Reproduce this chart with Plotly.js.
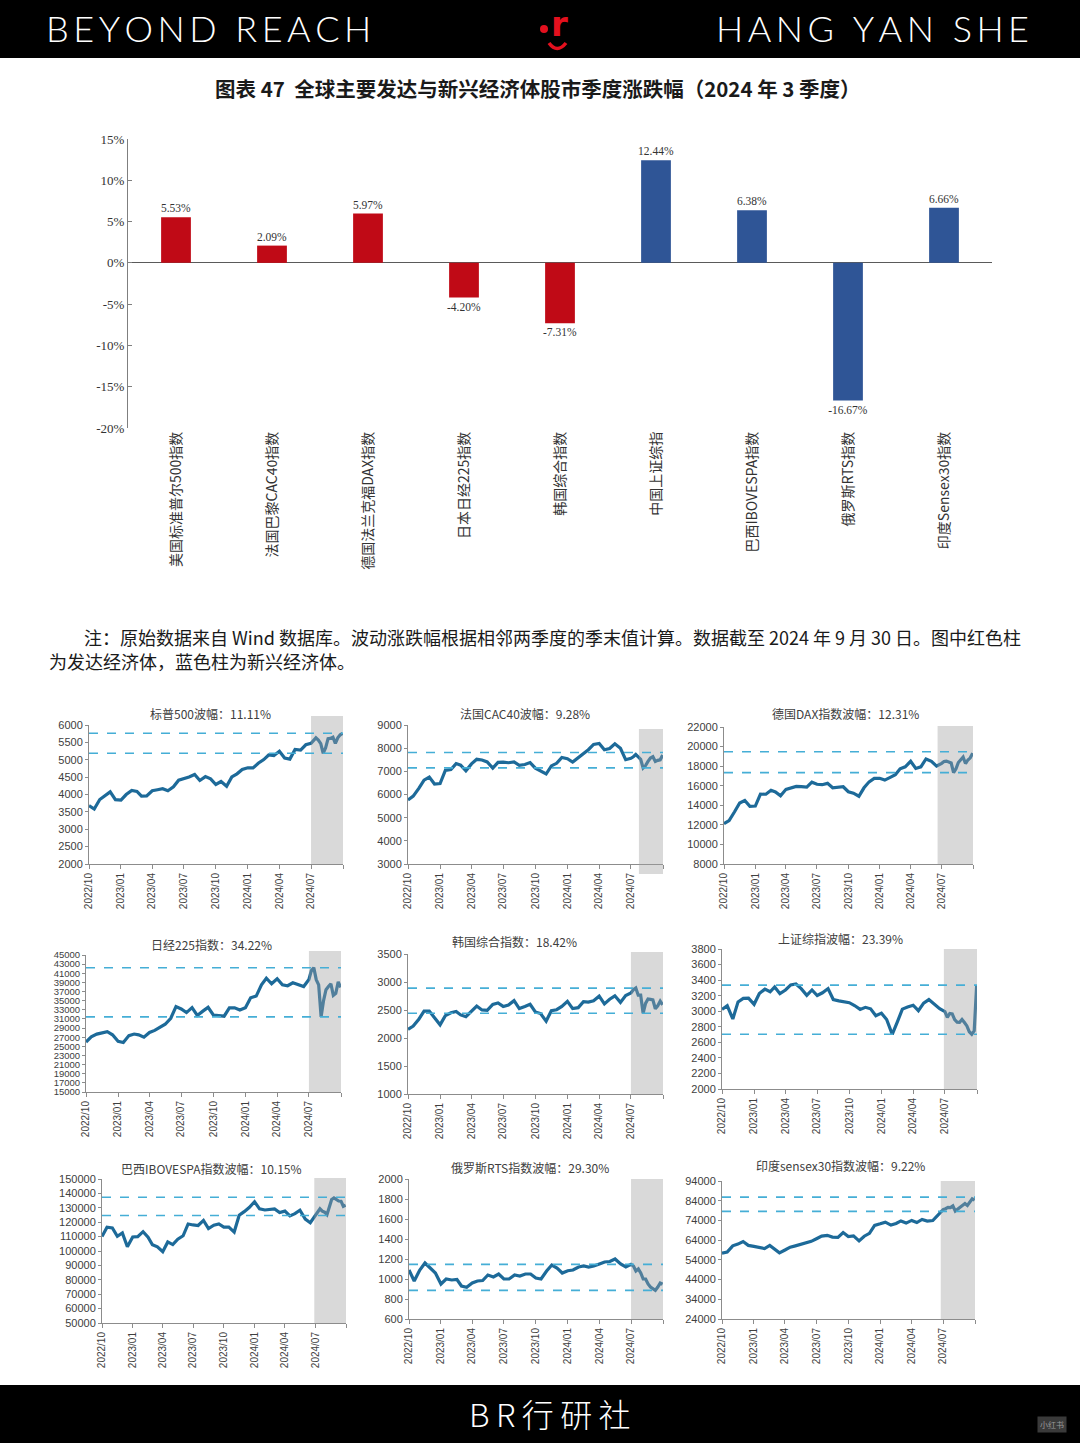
<!DOCTYPE html>
<html>
<head>
<meta charset="utf-8">
<script src="https://cdn.plot.ly/plotly-3.0.1.min.js"></script>
<style>
html,body{margin:0;padding:0;background:#ffffff;}
#chart{width:1080px;height:1443px;}
</style>
</head>
<body>
<div id="chart"></div>
<script>
// ---------------- DATA ----------------
const CATEGORIES = ['美国标准普尔500指数','法国巴黎CAC40指数','德国法兰克福DAX指数','日本日经225指数','韩国综合指数','中国上证综指','巴西IBOVESPA指数','俄罗斯RTS指数','印度Sensex30指数'];
const QTR_CHANGE = [5.53, 2.09, 5.97, -4.20, -7.31, 12.44, 6.38, -16.67, 6.66];
const ECON_GROUP = ['developed','developed','developed','developed','developed','emerging','emerging','emerging','emerging'];
const BAR_Y_TICKS = [-20, -15, -10, -5, 0, 5, 10, 15];

const PANEL_TITLES = ['标普500波幅：11.11%','法国CAC40波幅：9.28%','德国DAX指数波幅：12.31%','日经225指数：34.22%','韩国综合指数：18.42%','上证综指波幅：23.39%','巴西IBOVESPA指数波幅：10.15%','俄罗斯RTS指数波幅：29.30%','印度sensex30指数波幅：9.22%'];

const DATES = [
 '2022-10-01','2022-10-16','2022-11-01','2022-11-16','2022-12-01','2022-12-16',
 '2023-01-01','2023-01-16','2023-02-01','2023-02-16','2023-03-01','2023-03-16','2023-04-01','2023-04-16','2023-05-01','2023-05-16','2023-06-01','2023-06-16',
 '2023-07-01','2023-07-16','2023-08-01','2023-08-16','2023-09-01','2023-09-16','2023-10-01','2023-10-16','2023-11-01','2023-11-16','2023-12-01','2023-12-16',
 '2024-01-01','2024-01-16','2024-02-01','2024-02-16','2024-03-01','2024-03-16','2024-04-01','2024-04-16','2024-05-01','2024-05-16','2024-06-01','2024-06-16',
 '2024-07-01','2024-07-08','2024-07-15','2024-07-22','2024-07-29','2024-08-05','2024-08-12','2024-08-19','2024-08-26','2024-09-02','2024-09-09','2024-09-16','2024-09-23','2024-09-30'
];

const SPX = [
 3678,3583,3856,3958,4076,3852,
 3840,3999,4119,4090,3951,3960,4109,4137,4167,4109,4221,4410,
 4450,4505,4577,4404,4515,4450,4288,4373,4237,4508,4595,4719,
 4770,4766,4906,5005,5137,5117,5243,5051,5018,5297,5277,5431,
 5475,5572,5631,5564,5463,5186,5344,5608,5616,5648,5471,5633,5718,5762
];
const CAC40 = [
 5762,5932,6267,6622,6753,6452,
 6474,7043,7077,7334,7268,7025,7322,7520,7491,7406,7137,7388,
 7400,7372,7406,7260,7296,7379,7135,7000,6885,7234,7346,7596,
 7543,7398,7588,7768,7934,8164,8205,7932,7984,8188,7992,7503,
 7561,7628,7724,7622,7517,7148,7250,7432,7577,7630,7427,7474,7500,7700
];
const DAX = [
 12114,12438,13338,14234,14490,13893,
 13924,15134,15128,15534,15365,14967,15629,15808,15922,15897,15853,16358,
 16148,16105,16240,15790,15840,15893,15387,15238,14923,15786,16397,16751,
 16752,16572,16859,17117,17735,17937,18492,17767,17932,18738,18498,18002,
 18290,18472,18519,18407,18320,17339,17726,18371,18617,18930,18266,18633,18847,19325
];
const N225 = [
 25937,27090,27678,28028,28226,27527,
 26095,25822,27346,27696,27516,27010,28041,28493,29123,29842,31148,33706,
 33189,32391,33476,31766,32711,33533,31858,31660,31602,33424,33431,32970,
 33464,35620,36011,38487,39910,38708,39803,38471,38274,38920,38487,38102,
 39631,41580,42224,39599,38468,31458,35025,37389,38110,38700,36159,36581,39100,37919
];
const KOSPI = [
 2155,2212,2335,2480,2480,2360,
 2236,2400,2450,2475,2412,2380,2476,2571,2501,2494,2601,2625,
 2564,2590,2667,2525,2563,2601,2465,2436,2301,2488,2505,2563,
 2655,2525,2542,2648,2642,2666,2747,2609,2692,2753,2636,2758,
 2804,2862,2891,2764,2765,2441,2618,2697,2689,2681,2523,2575,2659,2593
];
const SSE = [
 3024,3071,2900,3120,3165,3168,
 3089,3228,3284,3250,3312,3226,3273,3338,3350,3290,3204,3273,
 3202,3237,3291,3150,3133,3117,3110,3073,3023,3050,3031,2942,
 2975,2893,2702,2866,3027,3055,3077,3007,3105,3150,3087,3032,
 2995,2922,2971,2965,2891,2860,2858,2893,2855,2811,2736,2704,2748,3336
];
const IBOV = [
 110037,116500,116037,110243,112486,103000,
 109735,110000,113430,109600,104385,102900,99500,106300,104432,108200,110565,118758,
 118087,117711,121248,115592,117893,118758,116565,116534,113143,124770,127331,130197,
 134185,129294,128481,128726,129180,126742,127691,124388,125924,128284,122098,119662,
 124718,127108,129321,127616,126954,125270,131000,135778,136888,136111,134737,134600,131065,131816
];
const RTS = [
 1090,980,1090,1160,1110,1060,
 950,1000,990,995,930,917,960,980,985,1040,1020,1050,
 1000,1000,1040,1030,1050,1050,1010,1000,1080,1140,1110,1060,
 1083,1090,1120,1130,1120,1130,1150,1170,1175,1200,1150,1120,
 1146,1130,1080,1100,1060,1000,1000,950,920,900,886,920,960,950
];
const SENSEX = [
 57427,57920,61121,61980,63284,61338,
 60840,60092,59708,61319,59411,57556,58991,60431,61112,61932,62428,63385,
 64719,66061,66459,65539,65387,67839,65828,66167,63591,65983,67481,71484,
 72272,73128,71645,72427,73745,72643,74015,72944,74483,73663,73961,76993,
 79477,79960,80665,80502,81356,78759,79648,80424,81698,82560,81560,82988,84929,84299
];

const Q3_HIGH = [5762, 7811, 19473, 42224, 2891, 3336, 137344, 1146, 85836];
const Q3_LOW  = [5186, 7148, 17339, 31458, 2441, 2704, 124685, 886, 78590];

const X_TICKS = ['2022-10-01','2023-01-01','2023-04-01','2023-07-01','2023-10-01','2024-01-01','2024-04-01','2024-07-01','2024-10-01'];
const X_TICK_TEXT = ['2022/10','2023/01','2023/04','2023/07','2023/10','2024/01','2024/04','2024/07',''];

const SERIES = [SPX, CAC40, DAX, N225, KOSPI, SSE, IBOV, RTS, SENSEX];

// ---------------- LAYOUT HELPERS ----------------
const W = 1080, H = 1443;
const PX = x => x / W;
const PY = y => 1 - y / H;

const PANELS = [
 {x0:89, x1:343, top:725, bot:864,  yr:[2000,6000],   dt:500,   tx:210, ty:713,  sh0:'2024-07-01', sh1:'2024-10-05', shTop:716,  shBot:864,  fs:11},
 {x0:408,x1:663, top:725, bot:864,  yr:[3000,9000],   dt:1000,  tx:525, ty:713,  sh0:'2024-07-24', sh1:'2024-10-20', shTop:729,  shBot:874,  fs:11},
 {x0:724,x1:973, top:727, bot:864,  yr:[8000,22000],  dt:2000,  tx:845, ty:713,  sh0:'2024-06-19', sh1:'2024-10-12', shTop:726,  shBot:864,  fs:11},
 {x0:86, x1:341, top:955, bot:1092, yr:[15000,45000], dt:2000,  tx:211, ty:944,  sh0:'2024-07-01', sh1:'2024-10-05', shTop:951,  shBot:1092, fs:9.5},
 {x0:408,x1:663, top:954, bot:1094, yr:[1000,3500],   dt:500,   tx:514, ty:941,  sh0:'2024-07-01', sh1:'2024-10-03', shTop:952,  shBot:1094, fs:11},
 {x0:722,x1:977, top:949, bot:1089, yr:[2000,3800],   dt:200,   tx:840, ty:938,  sh0:'2024-06-28', sh1:'2024-10-03', shTop:949,  shBot:1089, fs:11},
 {x0:102,x1:346, top:1179,bot:1323, yr:[50000,150000],dt:10000, tx:211, ty:1168, sh0:'2024-06-28', sh1:'2024-10-05', shTop:1178, shBot:1323, fs:11},
 {x0:409,x1:663, top:1179,bot:1319, yr:[600,2000],    dt:200,   tx:530, ty:1167, sh0:'2024-07-01', sh1:'2024-10-05', shTop:1179, shBot:1319, fs:11},
 {x0:722,x1:975, top:1181,bot:1319, yr:[24000,94000], dt:10000, tx:840, ty:1165, sh0:'2024-06-24', sh1:'2024-10-05', shTop:1181, shBot:1319, fs:11}
];

const RED = '#C00A16', BLUE = '#2F5596';
const LINE = '#1D6A99';
const DASH = '#45AED6';
const AXIS = '#8C8C8C';
const spaced = (s, sep) => s.split('').join(sep);

// ---------------- TRACES ----------------
const traces = [];
traces.push({
  type:'bar', x:CATEGORIES, y:QTR_CHANGE, xaxis:'x', yaxis:'y',
  width:0.31,
  marker:{color:ECON_GROUP.map(g => g === 'developed' ? RED : BLUE), line:{width:0}},
  text:QTR_CHANGE.map(v => v.toFixed(2) + '%'),
  textposition:'outside', constraintext:'none', cliponaxis:false,
  textfont:{family:'Liberation Serif, serif', size:11.5, color:'#333333'},
  hoverinfo:'skip'
});
SERIES.forEach((s, i) => {
  traces.push({
    type:'scatter', mode:'lines', x:DATES, y:s,
    xaxis:'x' + (i + 2), yaxis:'y' + (i + 2),
    line:{color:LINE, width:3.2}, hoverinfo:'skip'
  });
});

// ---------------- LAYOUT ----------------
const layout = {
  width:W, height:H,
  margin:{l:0, r:0, t:0, b:0},
  paper_bgcolor:'#ffffff', plot_bgcolor:'rgba(0,0,0,0)',
  showlegend:false,
  font:{family:'Noto Sans CJK SC, sans-serif', color:'#333333'},
  xaxis:{
    domain:[PX(128), PX(992)], anchor:'y', type:'category',
    tickangle:-90, showline:false, ticks:'', showgrid:false, zeroline:false,
    tickfont:{family:'Noto Sans CJK SC, sans-serif', size:14, color:'#333333'},
    fixedrange:true
  },
  yaxis:{
    domain:[PY(428), PY(139)], anchor:'x', range:[-20,15],
    tickmode:'array', tickvals:BAR_Y_TICKS, ticktext:BAR_Y_TICKS.map(v => v + '%'),
    tickfont:{family:'Liberation Serif, serif', size:13, color:'#333333'},
    showline:true, linecolor:'#7F7F7F', linewidth:1,
    ticks:'inside', ticklen:4, tickcolor:'#7F7F7F',
    showgrid:false, zeroline:true, zerolinecolor:'#5A5A5A', zerolinewidth:1.2,
    fixedrange:true
  },
  shapes:[], annotations:[]
};

PANELS.forEach((p, i) => {
  const n = i + 2;
  layout['xaxis' + n] = {
    domain:[PX(p.x0), PX(p.x1)], anchor:'y' + n, type:'date',
    range:['2022-10-01','2024-10-01'],
    tickmode:'array', tickvals:X_TICKS, ticktext:X_TICK_TEXT, tickangle:-90,
    tickfont:{family:'Liberation Sans, Arial, sans-serif', size:10, color:'#404040'},
    showline:true, linecolor:AXIS, linewidth:1,
    ticks:'outside', ticklen:4, tickcolor:AXIS,
    showgrid:false, zeroline:false, fixedrange:true
  };
  layout['yaxis' + n] = {
    domain:[PY(p.bot), PY(p.top)], anchor:'x' + n, range:p.yr,
    tickmode:'linear', tick0:p.yr[0], dtick:p.dt,
    exponentformat:'none', separatethousands:false, tickformat:'d',
    tickfont:{family:'Liberation Sans, Arial, sans-serif', size:p.fs, color:'#404040'},
    showline:true, linecolor:AXIS, linewidth:1,
    ticks:'outside', ticklen:3, tickcolor:AXIS,
    showgrid:false, zeroline:false, fixedrange:true
  };
  layout.shapes.push({
    type:'rect', layer:'above', xref:'x' + n, yref:'paper',
    x0:p.sh0, x1:p.sh1, y0:PY(p.shBot), y1:PY(p.shTop),
    fillcolor:'rgba(160,160,160,0.40)', line:{width:0}
  });
  [Q3_HIGH[i], Q3_LOW[i]].forEach(v => {
    layout.shapes.push({
      type:'line', layer:'above', xref:'x' + n + ' domain', yref:'y' + n,
      x0:0, x1:1, y0:v, y1:v,
      line:{color:DASH, width:1.6, dash:'dash'}
    });
  });
  layout.annotations.push({
    text:PANEL_TITLES[i], xref:'paper', yref:'paper', x:PX(p.tx), y:PY(p.ty),
    xanchor:'center', yanchor:'middle', showarrow:false,
    font:{family:'Noto Sans CJK SC, sans-serif', size:12, color:'#404040'}
  });
});

// banners
layout.shapes.push({type:'rect', layer:'below', xref:'paper', yref:'paper', x0:0, x1:1, y0:PY(58), y1:1, fillcolor:'#000000', line:{width:0}});
layout.shapes.push({type:'rect', layer:'below', xref:'paper', yref:'paper', x0:0, x1:1, y0:0, y1:PY(1385), fillcolor:'#000000', line:{width:0}});
// logo
layout.shapes.push({type:'circle', xref:'paper', yref:'paper', x0:PX(540), x1:PX(548), y0:PY(33), y1:PY(25), fillcolor:'#E3101E', line:{width:0}});
layout.shapes.push({type:'path', xref:'paper', yref:'paper',
  path:'M ' + PX(549) + ',' + PY(43) + ' Q ' + PX(557) + ',' + PY(54) + ' ' + PX(566) + ',' + PY(43),
  line:{color:'#E3101E', width:3.5}});

layout.annotations.push(
  {text:spaced('BEYOND REACH','\u2009'), xref:'paper', yref:'paper', x:PX(44), y:PY(28), xanchor:'left', yanchor:'middle', showarrow:false,
   font:{family:'Lato, Liberation Sans, sans-serif', size:36, color:'#ffffff', weight:300}},
  {text:spaced('HANG YAN SHE','\u2009'), xref:'paper', yref:'paper', x:PX(1031), y:PY(28), xanchor:'right', yanchor:'middle', showarrow:false,
   font:{family:'Lato, Liberation Sans, sans-serif', size:36, color:'#ffffff', weight:300}},
  {text:'<b>r</b>', xref:'paper', yref:'paper', x:PX(559), y:PY(24), xanchor:'center', yanchor:'middle', showarrow:false,
   font:{family:'DejaVu Sans, sans-serif', size:34, color:'#E3101E'}},
  {text:spaced('BR行研社','\u2009'), xref:'paper', yref:'paper', x:PX(550), y:PY(1413), xanchor:'center', yanchor:'middle', showarrow:false,
   font:{family:'Noto Sans CJK SC, sans-serif', size:32, color:'#ffffff', weight:300}},
  {text:'小红书', xref:'paper', yref:'paper', x:PX(1052), y:PY(1424), xanchor:'center', yanchor:'middle', showarrow:false,
   bgcolor:'#3a3a3a', borderpad:2, font:{family:'Noto Sans CJK SC, sans-serif', size:8, color:'#9a9a9a'}},
  {text:'<b>图表 47  全球主要发达与新兴经济体股市季度涨跌幅（2024 年 3 季度）</b>', xref:'paper', yref:'paper', x:PX(538), y:PY(88), xanchor:'center', yanchor:'middle', showarrow:false,
   font:{family:'Noto Sans CJK SC, sans-serif', size:20.5, color:'#1a1a1a'}},
  {text:'注：原始数据来自 Wind 数据库。波动涨跌幅根据相邻两季度的季末值计算。数据截至 2024 年 9 月 30 日。图中红色柱', xref:'paper', yref:'paper', x:PX(82), y:PY(637), xanchor:'left', yanchor:'middle', showarrow:false,
   font:{family:'Noto Sans CJK SC, sans-serif', size:18, color:'#1a1a1a'}},
  {text:'为发达经济体，蓝色柱为新兴经济体。', xref:'paper', yref:'paper', x:PX(47), y:PY(661), xanchor:'left', yanchor:'middle', showarrow:false,
   font:{family:'Noto Sans CJK SC, sans-serif', size:18, color:'#1a1a1a'}}
);

Plotly.newPlot('chart', traces, layout, {staticPlot:true, displayModeBar:false});
</script>
</body>
</html>
